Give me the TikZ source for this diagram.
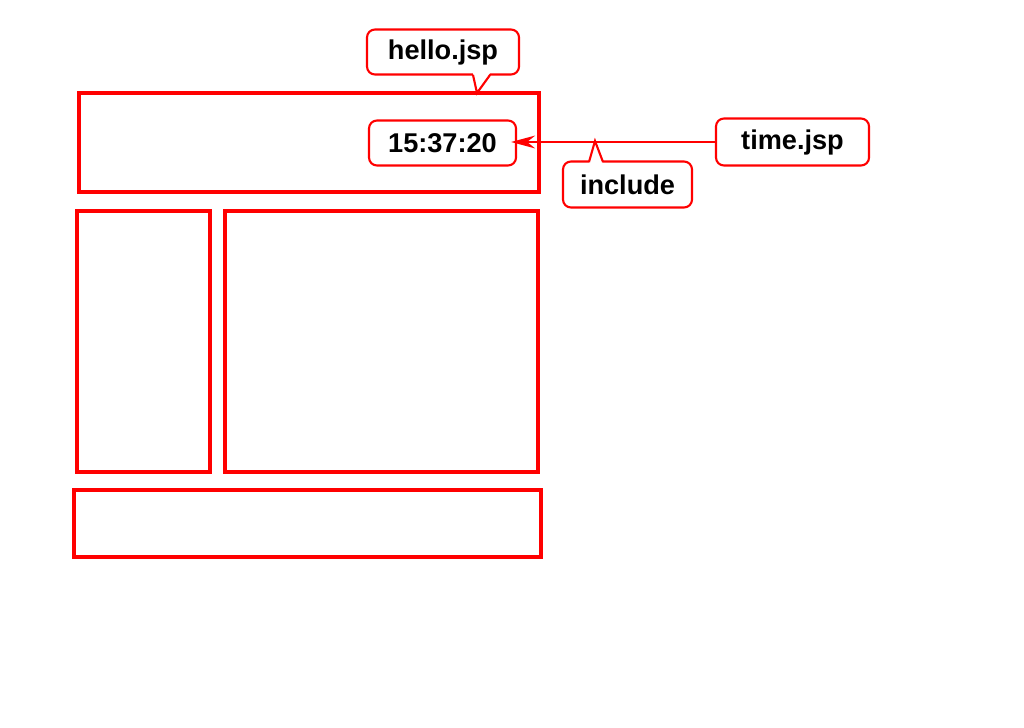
\documentclass[tikz,border=0pt]{standalone}
\usepackage{fontspec}
\setmainfont{Liberation Sans}
\usetikzlibrary{arrows.meta}
\begin{document}
\begin{tikzpicture}[x=0.025cm, y=-0.025cm,
    region/.style={draw=red, line width=2.2pt},
    tag/.style={draw=red, fill=white, line width=1.5pt, rounded corners=0.2cm,
        inner sep=0pt, font=\fontsize{19.3}{22}\selectfont\bfseries}]
            \useasboundingbox (0,0) rectangle (1024,728);

            % Page layout
            \draw[region] (79,93) rectangle (539,192);  % header
            \draw[region] (77,211) rectangle (210,472); % menu
            \draw[region] (225,211) rectangle (538,472); % content
            \draw[region] (74,490) rectangle (541,557); % footer

            % Callouts
            \node[tag, minimum width=3.8cm, minimum height=1.125cm] (hello) at (443,52) {hello.jsp};
            \node[tag, minimum width=3.675cm, minimum height=1.125cm] (clock) at (442.5,143) {15:37:20};
            \node[tag, minimum width=3.825cm, minimum height=1.175cm] (timejsp) at (792.5,142) {time.jsp};
            \node[tag, minimum width=3.225cm, minimum height=1.15cm] (incl) at (627.5,184.5) {include};

            % Include arrow
            \draw[red, line width=1.8pt, -{Stealth[length=0.6cm, width=0.32cm, inset=0.2cm]},
                shorten >=-0.15cm] (timejsp.west) -- (timejsp.west -| clock.east);

            % Pointers
            \fill[white] (473,73) -- (477,93) -- (490,73) -- cycle;
            \draw[red, line width=1.5pt] (473,75) -- (477,93) -- (490,75);
            \fill[white] (589,164) -- (595,141) -- (603,164) -- cycle;
            \draw[red, line width=1.5pt] (589,162) -- (595,141) -- (603,162);
        \end{tikzpicture}
\end{document}
